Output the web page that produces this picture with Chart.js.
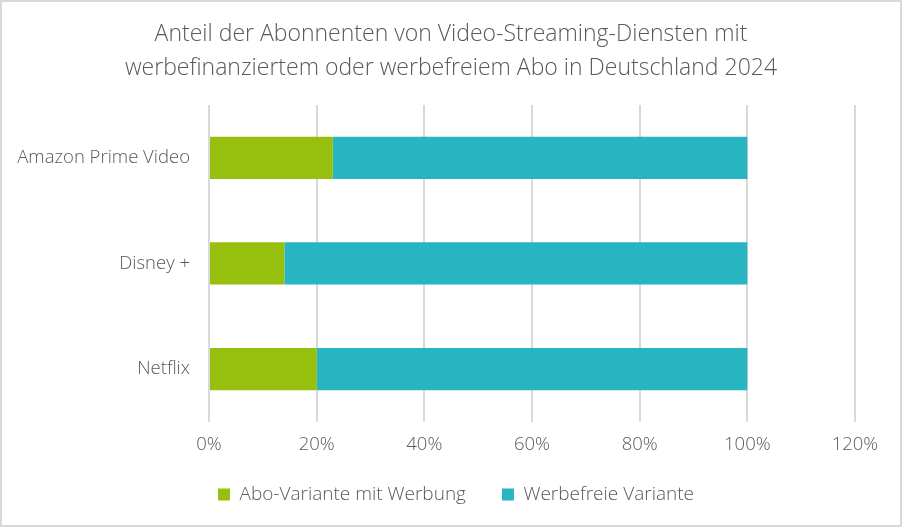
<!DOCTYPE html>
<html>
<head>
<meta charset="utf-8">
<script src="https://cdn.jsdelivr.net/npm/chart.js@4/dist/chart.umd.min.js"></script>
<style>
	html, body { margin: 0; padding: 0; background: #fff; }
	#wrap { width: 902px; height: 527px; }
</style>
</head>
<body>
<div id="wrap"><canvas id="mycanvas" width="902" height="527"></canvas></div>
<script>
// data
var dienste = ['Amazon Prime Video', 'Disney +', 'Netflix'];
var mitWerbung = [0.23, 0.14, 0.20];
var werbefrei = [0.77, 0.86, 0.80];
var serienNamen = ['Abo-Variante mit Werbung', 'Werbefreie Variante'];
var titelZeilen = ['Anteil der Abonnenten von Video-Streaming-Diensten mit', 'werbefinanziertem oder werbefreiem Abo in Deutschland 2024'];

var grau = '#595959';
Chart.defaults.font.family = "'Open Sans', sans-serif";
Chart.defaults.font.weight = 300;
Chart.defaults.color = grau;

// light frame round the whole picture
var rahmen = {
	id: 'rahmen',
	beforeDraw: function(chart) {
		var c = chart.ctx;
		c.save();
		c.fillStyle = '#fff';
		c.fillRect(0, 0, chart.width, chart.height);
		c.strokeStyle = '#d9d9d9';
		c.lineWidth = 2;
		c.strokeRect(1, 1, chart.width - 2, chart.height - 2);
		c.restore();
	}
};

// legend: wide gap between items but not so tall,
// title and legend centred on the whole canvas instead of the padded box
var verschieben = {
	id: 'verschieben',
	beforeLayout: function(chart) {
		var lg = chart.legend;
		if (lg && !lg._knapp) {
			var fit = lg.fit;
			var draw = lg.draw;
			lg.fit = function() { fit.call(this); this.height -= 20; };
			lg.draw = function() {
				this.top -= 19;
				this.left += 21; this.right += 21;
				draw.apply(this, arguments);
				this.top += 19;
				this.left -= 21; this.right -= 21;
			};
			lg._knapp = true;
		}
		var tb = chart.titleBlock;
		if (tb && !tb._mitte) {
			var tdraw = tb.draw;
			tb.draw = function() {
				var c = this.ctx;
				c.save();
				c.translate(16, 0);
				tdraw.apply(this, arguments);
				c.restore();
			};
			tb._mitte = true;
		}
	}
};

var chartdata = {
	labels: dienste,
	datasets: [
		{
			label: serienNamen[0],
			backgroundColor: '#97bf0d',
			data: mitWerbung
		},
		{
			label: serienNamen[1],
			backgroundColor: '#27b6c1',
			data: werbefrei
		}
	]
};

var ctx = document.getElementById('mycanvas');

var barGraph = new Chart(ctx, {
	type: 'bar',
	data: chartdata,
	plugins: [rahmen, verschieben],
	options: {
		indexAxis: 'y',
		responsive: false,
		animation: false,
		layout: { padding: { left: 15, right: 47, top: 0, bottom: 14 } },
		datasets: { bar: { categoryPercentage: 1, barPercentage: 0.4 } },
		scales: {
			x: {
				stacked: true,
				min: 0,
				max: 1.2,
				ticks: {
					stepSize: 0.2,
					padding: 12,
					font: { size: 18.5 },
					callback: function(v) { return Math.round(v * 100) + '%'; }
				},
				grid: { color: '#d9d9d9', lineWidth: 2, drawTicks: false },
				border: { display: false }
			},
			y: {
				stacked: true,
				ticks: { padding: 19, font: { size: 18.5 } },
				grid: { display: false, drawTicks: false },
				border: { display: false },
				afterFit: function(scale) { scale.width = 194; }
			}
		},
		plugins: {
			title: {
				display: true,
				text: titelZeilen,
				color: grau,
				font: { size: 23, weight: 300, lineHeight: 1.48 },
				padding: { top: 17, bottom: 20 }
			},
			legend: {
				position: 'bottom',
				labels: {
					boxWidth: 12,
					boxHeight: 12,
					padding: 36,
					font: { size: 19 },
					color: grau
				}
			},
			tooltip: { enabled: false }
		}
	}
});
</script>
</body>
</html>
